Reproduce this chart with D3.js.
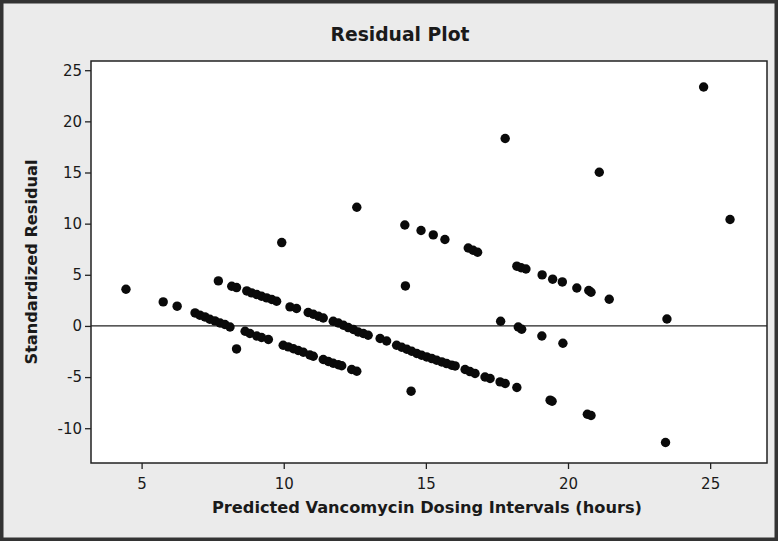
<!DOCTYPE html>
<html>
<head>
<meta charset="utf-8">
<script src="https://cdn.jsdelivr.net/npm/d3@7"></script>
<style>
html, body { margin: 0; padding: 0; background: #ebebeb; }
svg { display: block; }
</style>
</head>
<body>
<svg id="chart" width="778" height="541"></svg>
<script>
// residuals
const predicted = [4.45,5.76,6.25,7.70,8.34,9.93,12.57,17.79,24.77,21.10,25.70,23.48,23.43,14.28,14.48,17.63,18.25,18.37,19.08,19.82,19.37,19.44,20.68,20.81,
  14.26,14.83,15.26,15.67,16.49,16.66,16.82,18.20,18.35,18.52,19.09,19.46,19.80,20.31,20.73,20.81,21.45,
  8.17,8.34,8.70,8.87,9.05,9.22,9.40,9.58,9.75,10.22,10.45,10.86,11.04,11.22,11.39,11.74,11.92,12.10,12.27,12.45,12.62,12.80,12.97,13.39,13.62,13.97,14.15,14.33,14.50,14.68,14.85,15.03,15.21,15.38,15.56,15.73,15.91,16.03,16.38,16.55,16.73,17.08,17.26,17.61,17.79,18.20,
  6.88,7.05,7.23,7.40,7.58,7.76,7.93,8.11,8.64,8.81,9.05,9.22,9.46,9.98,10.16,10.34,10.51,10.69,10.92,11.04,11.39,11.57,11.74,11.92,12.04,12.39,12.57];
const residual = [3.59,2.35,1.93,4.40,-2.25,8.15,11.60,18.32,23.36,15.02,10.40,0.68,-11.40,3.91,-6.38,0.46,-0.10,-0.32,-0.98,-1.69,-7.26,-7.36,-8.63,-8.76,
  9.87,9.33,8.90,8.45,7.62,7.40,7.20,5.84,5.69,5.57,4.99,4.57,4.30,3.71,3.46,3.29,2.61,
  3.88,3.75,3.42,3.23,3.07,2.90,2.74,2.58,2.41,1.86,1.70,1.31,1.14,0.95,0.78,0.46,0.29,0.07,-0.16,-0.35,-0.59,-0.74,-0.91,-1.23,-1.47,-1.89,-2.08,-2.28,-2.48,-2.70,-2.87,-3.03,-3.19,-3.36,-3.52,-3.68,-3.84,-3.91,-4.26,-4.46,-4.65,-4.99,-5.14,-5.47,-5.63,-6.02,
  1.27,1.05,0.88,0.65,0.49,0.29,0.14,-0.10,-0.52,-0.74,-0.98,-1.13,-1.33,-1.89,-2.05,-2.23,-2.40,-2.57,-2.84,-2.96,-3.28,-3.48,-3.65,-3.79,-3.89,-4.26,-4.43];

const xTicks = [5, 10, 15, 20, 25];
const yTicks = [-10, -5, 0, 5, 10, 15, 20, 25];
const refLine = [0];

const title = "Residual Plot";
const xLabel = "Predicted Vancomycin Dosing Intervals (hours)";
const yLabel = "Standardized Residual";

const W = 778, H = 541;
const plot = { left: 91, right: 767, top: 61, bottom: 463 };
const labelFont = "'DejaVu Sans Condensed', 'DejaVu Sans', sans-serif";

const svg = d3.select("#chart");

// outer frame
svg.append("rect")
  .attr("x", 0).attr("y", 0).attr("width", W).attr("height", H)
  .attr("fill", "#ebebeb").attr("stroke", "#333").attr("stroke-width", 7);

const x = d3.scaleLinear().domain([3.22, 27.0]).range([plot.left, plot.right]);
const y = d3.scaleLinear().domain([-13.4, 25.9]).range([plot.bottom, plot.top]);

svg.append("rect")
  .attr("x", plot.left).attr("y", plot.top)
  .attr("width", plot.right - plot.left).attr("height", plot.bottom - plot.top)
  .attr("fill", "#fff");

// axes (plain hyphen for negatives, like the original)
const fmt = d => String(d);
const xAxis = svg.append("g")
  .attr("transform", `translate(0,${plot.bottom})`)
  .call(d3.axisBottom(x).tickValues(xTicks).tickFormat(fmt).tickSize(6).tickPadding(6));
const yAxis = svg.append("g")
  .attr("transform", `translate(${plot.left},0)`)
  .call(d3.axisLeft(y).tickValues(yTicks).tickFormat(fmt).tickSize(6).tickPadding(3));

[xAxis, yAxis].forEach(g => {
  g.select(".domain").remove();
  g.selectAll(".tick line").attr("stroke", "#222").attr("stroke-width", 1.3);
  g.selectAll(".tick text")
    .attr("fill", "#1a1a1a")
    .style("font-family", "'DejaVu Sans', sans-serif")
    .style("font-size", "15px");
});
xAxis.selectAll(".tick text").attr("dy", "0.95em");

// zero reference
svg.selectAll("line.ref").data(refLine).enter().append("line")
  .attr("class", "ref")
  .attr("x1", plot.left).attr("x2", plot.right)
  .attr("y1", d => y(d)).attr("y2", d => y(d))
  .attr("stroke", "#222").attr("stroke-width", 1.2);

// points
svg.append("g").selectAll("circle")
  .data(predicted.map((p, i) => ({ p, r: residual[i] })))
  .enter().append("circle")
  .attr("cx", d => x(d.p))
  .attr("cy", d => y(d.r))
  .attr("r", 4.7)
  .attr("fill", "#0a0a0a");

// plot border on top
svg.append("rect")
  .attr("x", plot.left).attr("y", plot.top)
  .attr("width", plot.right - plot.left).attr("height", plot.bottom - plot.top)
  .attr("fill", "none").attr("stroke", "#222").attr("stroke-width", 1.5);

// titles
svg.append("text")
  .attr("x", 400).attr("y", 41)
  .attr("text-anchor", "middle")
  .attr("textLength", 139).attr("lengthAdjust", "spacingAndGlyphs")
  .style("font-family", labelFont).style("font-weight", "bold").style("font-size", "19px")
  .attr("fill", "#1a1a1a")
  .text(title);

svg.append("text")
  .attr("x", 427).attr("y", 513)
  .attr("text-anchor", "middle")
  .attr("textLength", 430).attr("lengthAdjust", "spacingAndGlyphs")
  .style("font-family", labelFont).style("font-weight", "bold").style("font-size", "16px")
  .attr("fill", "#1a1a1a")
  .text(xLabel);

svg.append("text")
  .attr("transform", "translate(37,262) rotate(-90)")
  .attr("text-anchor", "middle")
  .attr("textLength", 205).attr("lengthAdjust", "spacingAndGlyphs")
  .style("font-family", "'DejaVu Sans', sans-serif").style("font-weight", "bold").style("font-size", "15px")
  .attr("fill", "#1a1a1a")
  .text(yLabel);
</script>
</body>
</html>
